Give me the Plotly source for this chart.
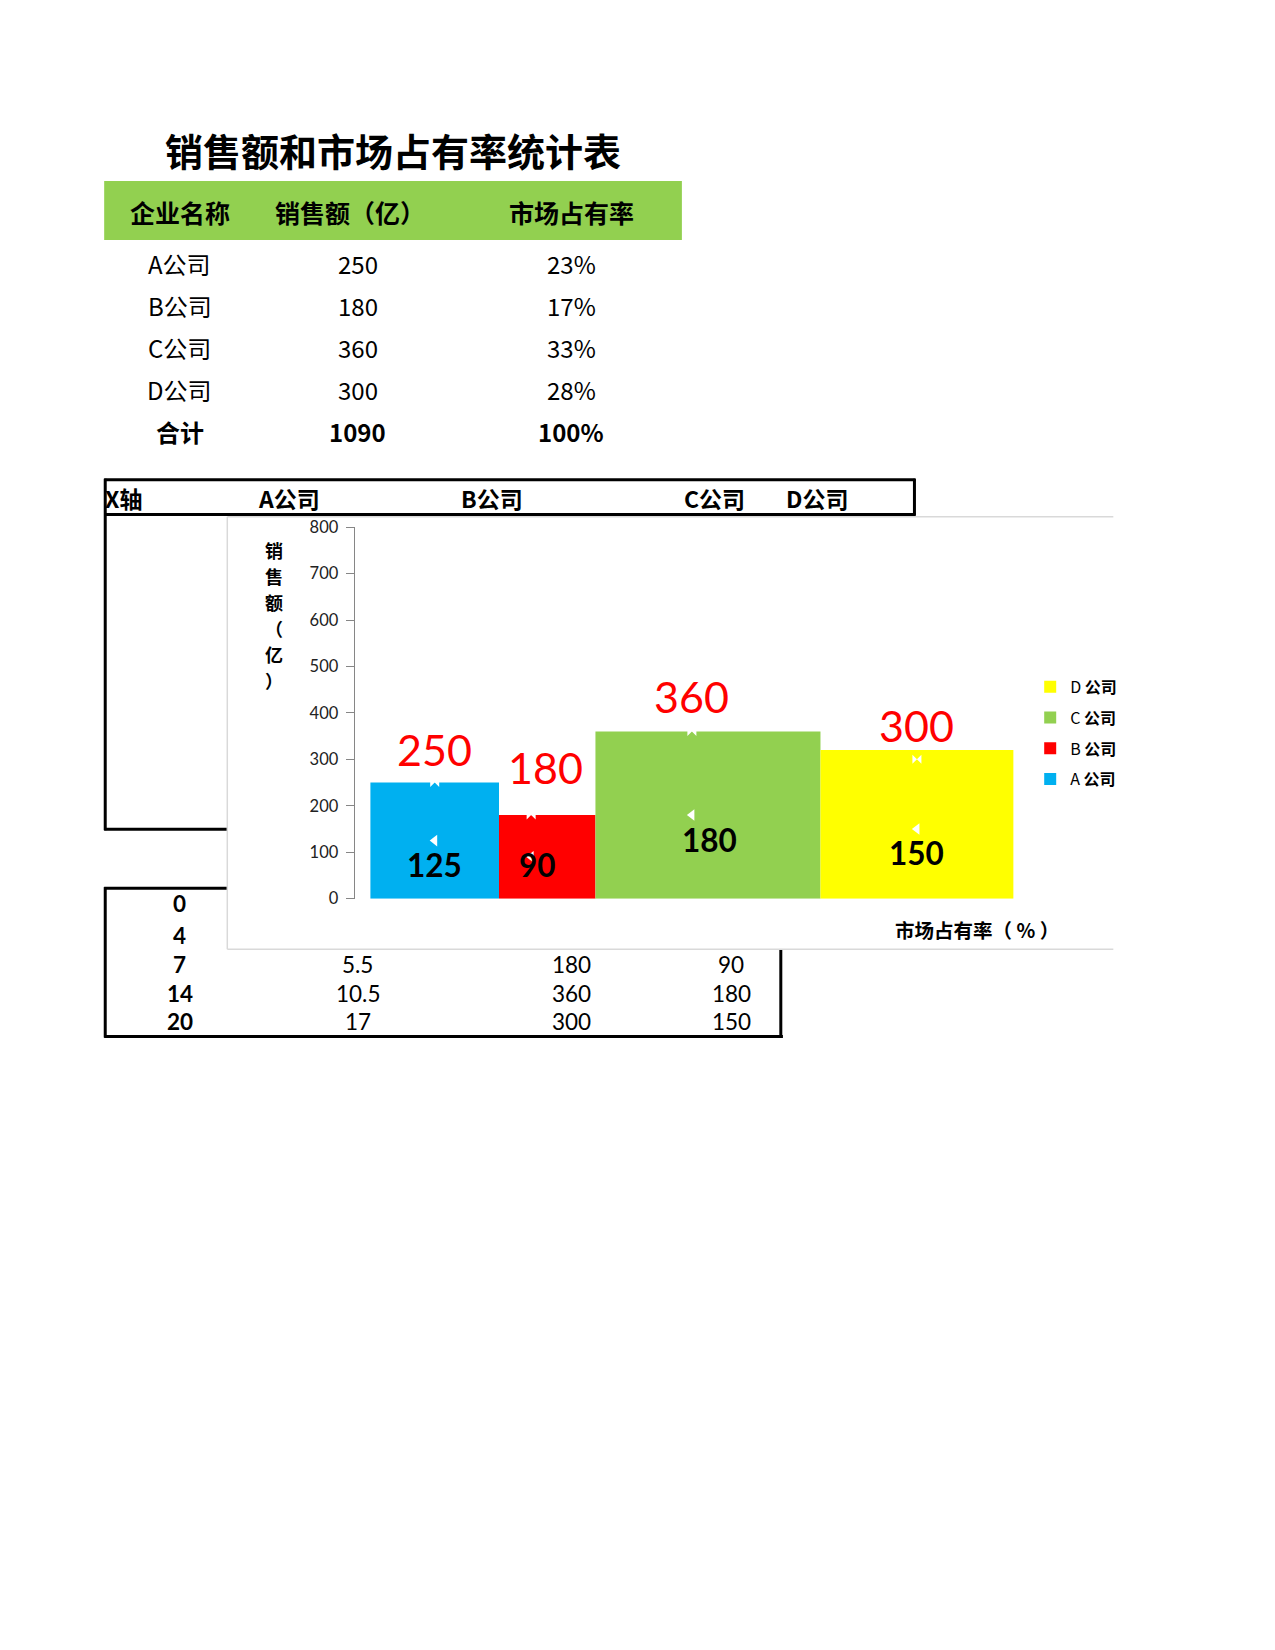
import plotly.graph_objects as go

W, H = 1275, 1650
# layout coordinates below are measured on a 1568-px-high view of the page
K = 1568 / H
WD, HD = W * K, H * K

# ---------- data ----------
companies = ["A公司", "B公司", "C公司", "D公司"]
sales = [250, 180, 360, 300]            # 销售额（亿）
share = [23, 17, 33, 28]                # 市场占有率（%） as listed in the table
bar_width_pct = [20, 15, 35, 30]        # bar widths as drawn on the chart's x axis
bar_height = [250, 180, 360, 320]       # bar tops as drawn on the chart (D is drawn above its 300 marker)
half_sales = [125, 90, 180, 150]
colors = ["#00B0F0", "#FF0000", "#92D050", "#FFFF00"]
share_labels = ["23%", "17%", "33%", "28%"]
total_sales = "1090"
total_share = "100%"
y_ticks = [0, 100, 200, 300, 400, 500, 600, 700, 800]

# helper table (partly hidden behind chart)
helper_x = ["0", "4", "7", "14", "20"]
helper_rows = {"7": ["5.5", "180", "90"], "14": ["10.5", "360", "180"], "20": ["17", "300", "150"]}

# marker / label placement on the chart's x axis (as seen in the picture)
marker_x = [10, 25, 50, 85]
top_label_x = [10, 27.3, 50, 85]
mid_label_x = [10, 26, 52.8, 85]
top_label_shift = [33.4, 48, 35, 34.3]         # px above the value
mid_label_shift = [-24.2, -8.4, -25.3, -24.2]  # px relative to half value

def px(x):
    return x / WD

def py(y):
    return 1 - y / HD

CJK = "Noto Sans CJK SC"
NUM = "Lato, Noto Sans CJK SC"

fig = go.Figure()

# ---------- chart traces ----------
left = []
acc = 0
for s in bar_width_pct:
    left.append(acc)
    acc += s
centers = [l + s / 2 for l, s in zip(left, bar_width_pct)]

for i, c in enumerate(companies):
    fig.add_trace(go.Bar(
        x=[centers[i]], y=[bar_height[i]], width=[bar_width_pct[i]],
        marker=dict(color=colors[i], line=dict(width=0)),
        name=c[0] + " <b>公司</b>", legendgroup=c, showlegend=True,
        legendrank=len(companies) - i, hoverinfo="skip",
    ))

fig.add_trace(go.Scatter(
    x=marker_x, y=sales, mode="markers",
    marker=dict(symbol="bowtie", color="white", size=9),
    showlegend=False, hoverinfo="skip", cliponaxis=False,
))
fig.add_trace(go.Scatter(
    x=marker_x, y=half_sales, mode="markers",
    marker=dict(symbol="triangle-left", color="white", size=10),
    showlegend=False, hoverinfo="skip", cliponaxis=False,
))

# ---------- axes ----------
unit = (963 - 352) / sum(bar_width_pct)
xr = [-(352 - 337) / unit, sum(bar_width_pct) + (980 - 963) / unit]

fig.update_layout(
    width=W, height=H,
    margin=dict(l=0, r=0, t=0, b=0, autoexpand=False),
    paper_bgcolor="white", plot_bgcolor="rgba(0,0,0,0)",
    barmode="overlay",
    xaxis=dict(domain=[px(337), px(980)], range=xr, showgrid=False, zeroline=False,
               showticklabels=False, ticks="", showline=False, fixedrange=True,
               automargin=False),
    yaxis=dict(domain=[py(854), py(501)], range=[0, 800], tickvals=y_ticks,
               showgrid=False, zeroline=False, showline=True, linecolor="#868686",
               linewidth=1, ticks="outside", ticklen=8, tickcolor="#868686",
               ticklabelstandoff=4, automargin=False,
               tickfont=dict(size=16.5, family=NUM, color="#222222"), fixedrange=True),
    legend=dict(x=px(979), y=py(636.5), xanchor="left", yanchor="top",
                traceorder="grouped", tracegroupgap=7,
                font=dict(size=16, family=CJK, color="black"),
                itemwidth=30, bgcolor="rgba(0,0,0,0)"),
    showlegend=True,
)

shapes = []
ann = []

# value labels placed through the axes
for i in range(len(sales)):
    ann.append(dict(xref="x", yref="y", x=top_label_x[i], y=sales[i], yshift=top_label_shift[i],
                    text=str(sales[i]), showarrow=False, xanchor="center", yanchor="middle",
                    font=dict(size=43, color="#FF0000", family=NUM)))
    ann.append(dict(xref="x", yref="y", x=mid_label_x[i], y=half_sales[i], yshift=mid_label_shift[i],
                    text="<b>%d</b>" % half_sales[i], showarrow=False, xanchor="center", yanchor="middle",
                    font=dict(size=31.5, color="black", family=NUM)))

def line(x0, y0, x1, y1, color="black", w=3):
    shapes.append(dict(type="line", xref="paper", yref="paper",
                       x0=px(x0), y0=py(y0), x1=px(x1), y1=py(y1),
                       line=dict(color=color, width=w), layer="below"))

def text(x, y, t, size=22, bold=False, color="black", family=CJK, xanchor="center"):
    ann.append(dict(xref="paper", yref="paper", x=px(x), y=py(y), text=("<b>%s</b>" % t) if bold else t,
                    showarrow=False, xanchor=xanchor, yanchor="middle",
                    font=dict(size=size, color=color, family=family)))

# ---------- top table ----------
text(373, 142, "销售额和市场占有率统计表", size=38, bold=True)
shapes.append(dict(type="rect", xref="paper", yref="paper", x0=px(99), x1=px(648), y0=py(228), y1=py(172),
                   fillcolor="#92D050", line=dict(width=0), layer="below"))
text(171, 201, "企业名称", size=25, bold=True)
text(333, 201, "销售额（亿）", size=25, bold=True)
text(543, 201, "市场占有率", size=25, bold=True)
row_y = [250, 290, 330, 370]
for i, c in enumerate(companies):
    text(171, row_y[i], c, size=24)
    text(340, row_y[i], str(sales[i]), size=24)
    text(543, row_y[i], share_labels[i], size=24)
text(171, 410, "合计", size=24, bold=True)
text(340, 410, total_sales, size=24, bold=True)
text(543, 410, total_share, size=24, bold=True)

# ---------- helper table (behind chart) ----------
line(99, 456, 870, 456)
line(99, 489, 870, 489)
line(869, 455, 869, 490)
line(100, 455, 100, 789)
line(99, 788, 216, 788)
text(117, 473, "X轴", size=23, bold=True)
text(275, 473, "A公司", size=23, bold=True)
text(468, 473, "B公司", size=23, bold=True)
text(679, 473, "C公司", size=23, bold=True)
text(776, 473, "D公司", size=23, bold=True)

line(99, 844, 216, 844)
line(100, 843, 100, 986)
line(99, 985, 744, 985)
line(742, 902, 742, 986)
hy = [859, 889, 917, 944, 971]
for xv, yv in zip(helper_x, hy):
    text(171, yv, xv, size=22.5, bold=True, family=NUM)
    if xv in helper_rows:
        vals = helper_rows[xv]
        text(340, yv, vals[0], size=22.5, family=NUM)
        text(543, yv, vals[1], size=22.5, family=NUM)
        text(695, yv, vals[2], size=22.5, family=NUM)

# ---------- chart frame ----------
shapes.append(dict(type="rect", xref="paper", yref="paper", x0=px(216), x1=px(1058), y0=py(902), y1=py(491),
                   fillcolor="white", line=dict(width=0), layer="below"))
line(216, 491, 1058, 491, color="#D9D9D9", w=1.5)
line(216, 902, 1058, 902, color="#D9D9D9", w=1.5)
line(216, 491, 216, 902, color="#D9D9D9", w=1.5)

# axis titles
y_title_chars = ["销", "售", "额", "（", "亿", "）"]
for i, ch in enumerate(y_title_chars):
    text(260, 523 + 24.7 * i, ch, size=18, bold=True)
text(928, 883, "市场占有率（ % ）", size=19.5, bold=True)

fig.update_layout(shapes=shapes, annotations=ann)
fig.write_html("out.html", config={"displayModeBar": False},
               post_script="document.body.style.margin='0';document.body.style.overflow='hidden';")
